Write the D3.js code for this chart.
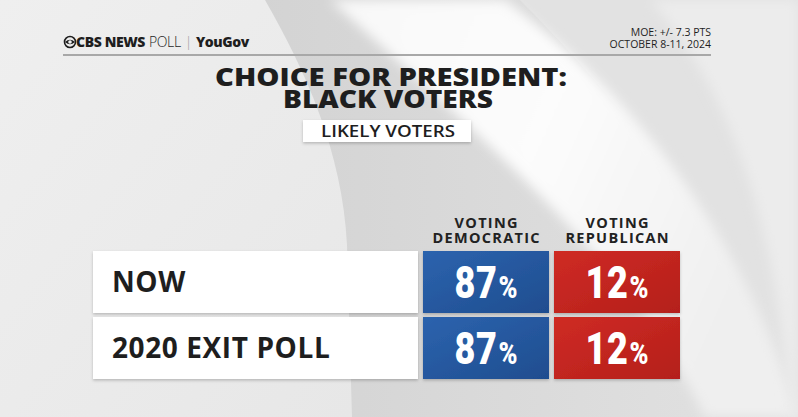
<!DOCTYPE html>
<html>
<head>
<meta charset="utf-8">
<script src="https://cdn.jsdelivr.net/npm/d3@7"></script>
<style>
  html, body { margin: 0; padding: 0; background: #e8e8e8; }
  svg { display: block; }
</style>
</head>
<body>
<svg id="chart" width="798" height="417"></svg>
<script>
// data
var rowLabels = ['NOW', '2020 EXIT POLL'];
var columnKeys = ['dem', 'rep'];
var columnHeads = [['VOTING', 'DEMOCRATIC'], ['VOTING', 'REPUBLICAN']];
var democratic = [87, 87];
var republican = [12, 12];

var title = ['CHOICE FOR PRESIDENT:', 'BLACK VOTERS'];
var subtitle = 'LIKELY VOTERS';
var moe = ['MOE: +/- 7.3 PTS', 'OCTOBER 8-11, 2024'];

var W = 798, H = 417;
var svg = d3.select('#chart');
var defs = svg.append('defs');

/** BACKGROUND **/
var gLeft = defs.append('linearGradient').attr('id', 'gLeft')
   .attr('x1', 0).attr('y1', 0).attr('x2', 1).attr('y2', 1);
gLeft.append('stop').attr('offset', 0).attr('stop-color', '#efefef');
gLeft.append('stop').attr('offset', 1).attr('stop-color', '#e7e7e7');

var gShade = defs.append('linearGradient').attr('id', 'gShade')
   .attr('x1', 0).attr('y1', 0).attr('x2', 1).attr('y2', 0);
gShade.append('stop').attr('offset', 0).attr('stop-color', '#d3d3d3');
gShade.append('stop').attr('offset', 1).attr('stop-color', '#e2e2e2');

var gWhite = defs.append('linearGradient').attr('id', 'gWhite')
   .attr('x1', 0).attr('y1', 0).attr('x2', 1).attr('y2', 0.4);
gWhite.append('stop').attr('offset', 0).attr('stop-color', '#f8f8f8');
gWhite.append('stop').attr('offset', 0.5).attr('stop-color', '#fcfcfc');
gWhite.append('stop').attr('offset', 1).attr('stop-color', '#efefef');

var blur = defs.append('filter').attr('id', 'soft')
   .attr('x', '-10%').attr('y', '-10%').attr('width', '120%').attr('height', '120%');
blur.append('feGaussianBlur').attr('stdDeviation', 6);

var shadow = defs.append('filter').attr('id', 'drop')
   .attr('x', '-5%').attr('y', '-10%').attr('width', '110%').attr('height', '130%');
shadow.append('feDropShadow').attr('dx', 0).attr('dy', 1.5).attr('stdDeviation', 1.5)
   .attr('flood-color', '#000').attr('flood-opacity', 0.22);

var bg = svg.append('g');
bg.append('rect').attr('width', W).attr('height', H).attr('fill', '#e2e2e2');
bg.append('path')
   .attr('d', 'M250,0 L520,0 C640,120 740,260 798,417 L330,417 C345,250 330,90 250,0 Z')
   .attr('fill', 'url(#gShade)');
bg.append('path')
   .attr('d', 'M330,0 L505,0 C640,100 745,240 798,417 L705,417 C640,280 520,170 330,0 Z')
   .attr('fill', 'url(#gWhite)').attr('filter', 'url(#soft)');
bg.append('path')
   .attr('d', 'M650,0 L798,0 L798,417 L790,417 C780,250 740,100 650,0 Z')
   .attr('fill', '#ececec').attr('filter', 'url(#soft)');
bg.append('path')
   .attr('d', 'M0,0 L265,0 C305,70 342,150 347,245 L352,417 L0,417 Z')
   .attr('fill', 'url(#gLeft)');

/** HEADER **/
var head = svg.append('g').attr('font-family', "'Open Sans', sans-serif").attr('fill', '#1e1e1e');

// cbs eye
var eye = head.append('g').attr('transform', 'translate(70,42)');
eye.append('circle').attr('r', 5.5).attr('fill', 'none').attr('stroke', '#1e1e1e').attr('stroke-width', 1.6);
eye.append('path').attr('d', 'M-5,0 Q0,-4.5 5,0 Q0,4.5 -5,0 Z').attr('fill', '#1e1e1e');
eye.append('circle').attr('r', 1.8).attr('fill', '#f2f2f2');

var logo = head.append('text').attr('x', 76).attr('y', 47)
   .attr('font-size', 14).attr('letter-spacing', -0.4);
logo.append('tspan').attr('font-weight', 800).text('CBS NEWS');
logo.append('tspan').attr('font-weight', 300).attr('dx', 4).text('POLL');
logo.append('tspan').attr('font-weight', 300).attr('fill', '#999').attr('dx', 4).text('|');
logo.append('tspan').attr('font-weight', 800).attr('dx', 4).text('YouGov');

head.selectAll('text.moe').data(moe).enter().append('text')
   .attr('class', 'moe')
   .attr('x', 711).attr('y', function(d, i){ return 36 + i * 11.5; })
   .attr('text-anchor', 'end').attr('font-size', 10.5).attr('font-weight', 500)
   .text(function(d){ return d; });

head.append('line').attr('x1', 63).attr('x2', 711).attr('y1', 55).attr('y2', 55)
   .attr('stroke', '#a8a8a8').attr('stroke-width', 2);

// title lines stretched to the reference widths
var titleWidths = [352, 210];
head.selectAll('text.title').data(title).enter().append('text')
   .attr('class', 'title')
   .attr('x', function(d, i){ return i ? 388 : 391; })
   .attr('y', function(d, i){ return 85.5 + i * 22.5; })
   .attr('text-anchor', 'middle').attr('font-size', 24.5).attr('font-weight', 800)
   .attr('textLength', function(d, i){ return titleWidths[i]; })
   .attr('lengthAdjust', 'spacingAndGlyphs')
   .text(function(d){ return d; });

head.append('rect').attr('x', 303).attr('y', 120).attr('width', 168).attr('height', 22)
   .attr('fill', '#fff').attr('filter', 'url(#drop)');
head.append('text').attr('x', 388).attr('y', 137).attr('text-anchor', 'middle')
   .attr('font-size', 17).attr('font-weight', 600)
   .attr('textLength', 134).attr('lengthAdjust', 'spacingAndGlyphs')
   .text(subtitle);

/** TABLE **/
var y = d3.scaleBand().domain(rowLabels).range([251, 379]).paddingInner(4 / 66);
var x = d3.scaleBand().domain(columnKeys).range([423, 680]).paddingInner(5 / 131);
var fills = { dem: ['#2c63ae', '#1f4d8f'], rep: ['#cf2b24', '#b41f1b'] };

columnKeys.forEach(function(k){
   var g = defs.append('linearGradient').attr('id', 'g_' + k)
      .attr('x1', 0).attr('y1', 0).attr('x2', 1).attr('y2', 1);
   g.append('stop').attr('offset', 0).attr('stop-color', fills[k][0]);
   g.append('stop').attr('offset', 1).attr('stop-color', fills[k][1]);
});

var table = svg.append('g').attr('font-family', "'Open Sans', sans-serif");

// column heads
table.selectAll('text.colhead').data(columnKeys).enter().append('text')
   .attr('class', 'colhead')
   .attr('text-anchor', 'middle').attr('font-size', 14.5).attr('font-weight', 700)
   .attr('fill', '#222').attr('letter-spacing', 1.3)
   .each(function(d, i){
      var t = d3.select(this);
      columnHeads[i].forEach(function(line, j){
         t.append('tspan').attr('x', x(d) + x.bandwidth() / 2 + 0.7)
            .attr('y', 228 + j * 15).text(line);
      });
   });

var rows = table.selectAll('g.row').data(rowLabels).enter().append('g')
   .attr('class', 'row')
   .attr('transform', function(d){ return 'translate(0,' + y(d) + ')'; });

rows.append('rect').attr('x', 93).attr('width', 325).attr('height', y.bandwidth())
   .attr('fill', '#fff').attr('filter', 'url(#drop)');
rows.append('text').attr('x', 112).attr('y', y.bandwidth() / 2 + 10)
   .attr('font-size', 28).attr('font-weight', 700).attr('fill', '#1e1e1e')
   .attr('letter-spacing', 0.6)
   .text(function(d){ return d; });

var values = { dem: democratic, rep: republican };
rows.each(function(label, i){
   var r = d3.select(this);
   columnKeys.forEach(function(k){
      r.append('rect').attr('x', x(k)).attr('width', x.bandwidth()).attr('height', y.bandwidth())
         .attr('fill', 'url(#g_' + k + ')').attr('filter', 'url(#drop)');
      var t = r.append('text')
         .attr('transform', 'translate(' + (x(k) + x.bandwidth() / 2) + ',' + (y.bandwidth() / 2 + 15.5) + ') scale(0.8,1)')
         .attr('text-anchor', 'middle').attr('fill', '#fff')
         .attr('font-family', 'Roboto, sans-serif').attr('font-weight', 900);
      t.append('tspan').attr('font-size', 45).attr('letter-spacing', 1).text(values[k][i]);
      t.append('tspan').attr('font-size', 32).attr('dx', 1).text('%');
   });
});
</script>
</body>
</html>
